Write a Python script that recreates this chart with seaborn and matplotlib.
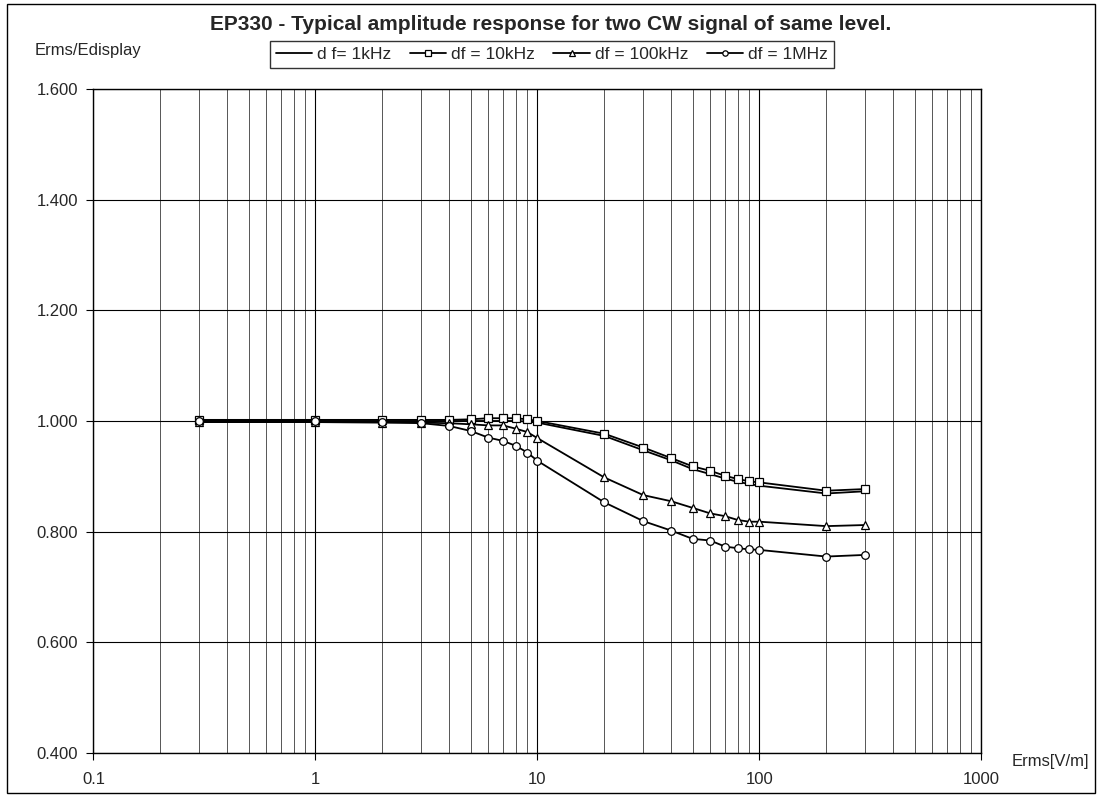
import numpy as np
import pandas as pd
import matplotlib
matplotlib.use("Agg")
import matplotlib.pyplot as plt
import seaborn as sns
from matplotlib.ticker import FixedLocator, LogLocator, NullFormatter

# ---- data ----
field = [0.3, 1, 2, 3, 4, 5, 6, 7, 8, 9, 10, 20, 30, 40, 50, 60, 70, 80, 90, 100, 200, 300]
df_1k = [1.000, 1.000, 1.000, 1.000, 1.000, 1.000, 1.000, 1.000, 1.000, 0.999, 0.997,
         0.973, 0.947, 0.929, 0.913, 0.904, 0.896, 0.890, 0.886, 0.883, 0.869, 0.873]
df_10k = [1.002, 1.002, 1.002, 1.002, 1.002, 1.003, 1.005, 1.005, 1.005, 1.003, 1.000,
          0.977, 0.952, 0.933, 0.918, 0.910, 0.901, 0.895, 0.891, 0.889, 0.874, 0.877]
df_100k = [0.998, 0.998, 0.997, 0.997, 0.996, 0.994, 0.992, 0.992, 0.986, 0.980, 0.969,
           0.898, 0.866, 0.855, 0.843, 0.833, 0.828, 0.821, 0.818, 0.818, 0.810, 0.812]
df_1M = [1.000, 1.000, 0.998, 0.996, 0.991, 0.982, 0.970, 0.964, 0.955, 0.943, 0.928,
         0.853, 0.819, 0.802, 0.787, 0.784, 0.773, 0.770, 0.768, 0.767, 0.755, 0.758]
series_names = ["d f= 1kHz", "df = 10kHz", "df = 100kHz", "df = 1MHz"]
series_markers = [None, "s", "^", "o"]
y_ticks = [0.4, 0.6, 0.8, 1.0, 1.2, 1.4, 1.6]
x_ticks = [0.1, 1, 10, 100, 1000]
x_tick_labels = ["0.1", "1", "10", "100", "1000"]

data = pd.DataFrame({
    "field": field * 4,
    "ratio": df_1k + df_10k + df_100k + df_1M,
    "series": sum([[n] * len(field) for n in series_names], []),
})

sns.set_theme(style="white")
plt.rcParams["font.family"] = ["Liberation Sans", "DejaVu Sans"]

fig = plt.figure(figsize=(11.01, 7.98), dpi=100)
ax = fig.add_axes([0.0849, 0.0564, 0.8065, 0.8321])

for name, mk in zip(series_names, series_markers):
    sub = data[data["series"] == name]
    kw = dict(marker=mk, markersize=5.5, markerfacecolor="white",
              markeredgecolor="black", markeredgewidth=0.9) if mk else {}
    sns.lineplot(data=sub, x="field", y="ratio", ax=ax, color="black",
                 linewidth=1.3, label=name, legend=False, **kw)

ax.set_xscale("log")
ax.set_xlim(0.1, 1000)
ax.set_ylim(0.4, 1.6)
ax.xaxis.set_major_locator(FixedLocator(x_ticks))
ax.set_xticklabels(x_tick_labels)
ax.xaxis.set_minor_locator(LogLocator(base=10, subs=np.arange(2, 10)))
ax.xaxis.set_minor_formatter(NullFormatter())
ax.set_yticks(y_ticks)
ax.set_yticklabels([f"{v:.3f}" for v in y_ticks])
ax.grid(which="major", axis="both", color="black", linewidth=0.8)
ax.grid(which="minor", axis="x", color="#555555", linewidth=0.7)
ax.set_axisbelow(True)
ax.tick_params(axis="both", which="major", labelsize=12, length=5, width=0.8,
               direction="out", color="black", left=True, bottom=True)
ax.tick_params(axis="x", which="major", pad=9)
ax.tick_params(axis="y", which="major", pad=6)
ax.tick_params(axis="x", which="minor", length=0)
for s in ax.spines.values():
    s.set_color("black")
    s.set_linewidth(1.0)
ax.set_xlabel("")
ax.set_ylabel("")

fig.text(0.5, 0.969, "EP330 - Typical amplitude response for two CW signal of same level.",
         ha="center", va="center", fontsize=15, fontweight="bold")
fig.text(0.031, 0.937, "Erms/Edisplay", ha="left", va="center", fontsize=12)
fig.text(0.919, 0.0455, "Erms[V/m]", ha="left", va="center", fontsize=12)

handles, labels = ax.get_legend_handles_labels()
leg = fig.legend(handles, labels, loc="center", bbox_to_anchor=(0.5013, 0.9317), ncol=4,
                 frameon=True, fancybox=False, edgecolor="black", fontsize=12.5,
                 handlelength=2.1, handletextpad=0.3, columnspacing=1.05,
                 borderpad=0.33, markerscale=0.7)
leg.get_frame().set_linewidth(1.0)

border = plt.Rectangle((0.0065, 0.006), 0.988, 0.989, transform=fig.transFigure,
                       fill=False, edgecolor="black", linewidth=1.0)
fig.patches.append(border)

fig.savefig("out.png", dpi=100, facecolor="white")
